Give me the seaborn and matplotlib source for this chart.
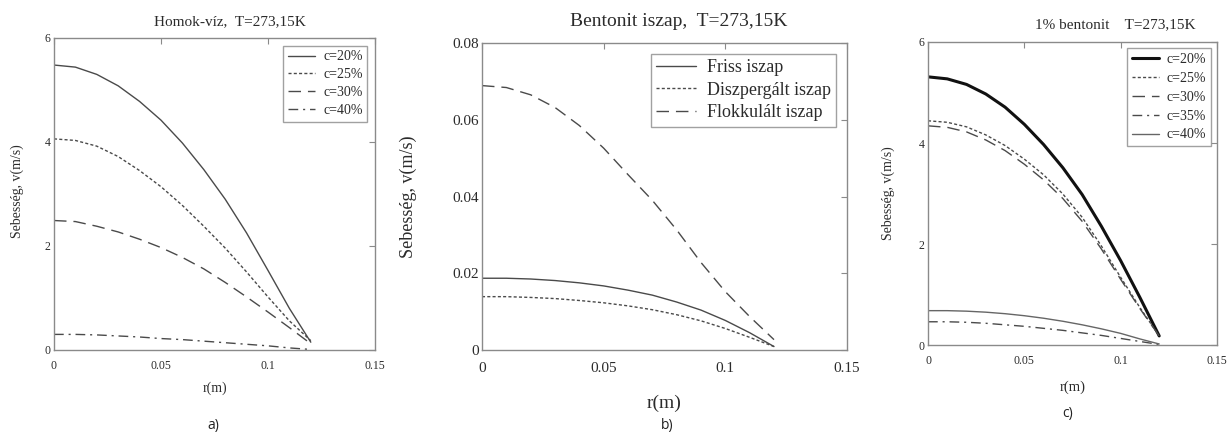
import numpy as np
import pandas as pd
import matplotlib
matplotlib.use("Agg")
import matplotlib.pyplot as plt
import seaborn as sns

# ---------------- data ----------------
r = [0.0, 0.01, 0.02, 0.03, 0.04, 0.05, 0.06, 0.07, 0.08, 0.09, 0.10, 0.11, 0.12]

# panel a: Homok-víz
a_labels = ["c=20%", "c=25%", "c=30%", "c=40%"]
a_c20 = [5.48, 5.44, 5.30, 5.08, 4.78, 4.42, 3.98, 3.47, 2.90, 2.25, 1.53, 0.80, 0.15]
a_c25 = [4.06, 4.03, 3.92, 3.72, 3.45, 3.14, 2.78, 2.38, 1.96, 1.50, 1.02, 0.56, 0.18]
a_c30 = [2.49, 2.47, 2.38, 2.27, 2.13, 1.97, 1.78, 1.56, 1.30, 1.02, 0.73, 0.43, 0.12]
a_c40 = [0.30, 0.30, 0.29, 0.27, 0.25, 0.22, 0.20, 0.17, 0.14, 0.11, 0.08, 0.04, 0.01]

# panel b: Bentonit iszap
b_labels = ["Friss iszap", "Diszpergált iszap", "Flokkulált iszap"]
b_friss = [0.0187, 0.0187, 0.0185, 0.0181, 0.0175, 0.0167, 0.0156, 0.0143, 0.0125, 0.0104, 0.0077, 0.0045, 0.0009]
b_disz = [0.0139, 0.0139, 0.0137, 0.0134, 0.0129, 0.0123, 0.0115, 0.0105, 0.0092, 0.0076, 0.0056, 0.0033, 0.0009]
b_flok = [0.0689, 0.0684, 0.0665, 0.0632, 0.0585, 0.0526, 0.0457, 0.0390, 0.0313, 0.0228, 0.0152, 0.0087, 0.0027]

# panel c: 1% bentonit
c_labels = ["c=20%", "c=25%", "c=30%", "c=35%", "c=40%"]
c_c20 = [5.31, 5.27, 5.16, 4.97, 4.71, 4.37, 3.97, 3.51, 2.98, 2.35, 1.67, 0.94, 0.18]
c_c25 = [4.44, 4.41, 4.32, 4.16, 3.95, 3.68, 3.37, 2.99, 2.53, 1.96, 1.34, 0.74, 0.18]
c_c30 = [4.34, 4.31, 4.22, 4.06, 3.85, 3.58, 3.27, 2.90, 2.45, 1.90, 1.30, 0.72, 0.18]
c_c35 = [0.46, 0.46, 0.45, 0.43, 0.40, 0.37, 0.33, 0.29, 0.24, 0.19, 0.13, 0.07, 0.01]
c_c40 = [0.68, 0.68, 0.67, 0.65, 0.62, 0.58, 0.53, 0.47, 0.40, 0.32, 0.23, 0.12, 0.02]

x_ticks = [0, 0.05, 0.1, 0.15]
x_ticklabels = ["0", "0.05", "0.1", "0.15"]
v_ticks = [0, 2, 4, 6]
v_ticklabels = ["0", "2", "4", "6"]
b_ticks = [0, 0.02, 0.04, 0.06, 0.08]
b_ticklabels = ["0", "0.02", "0.04", "0.06", "0.08"]

# ---------------- style ----------------
sns.set_theme(style="white")
plt.rcParams["font.family"] = ["Liberation Serif", "DejaVu Serif"]

W, H = 1231, 432
fig = plt.figure(figsize=(W / 100, H / 100), dpi=100)
fig.patch.set_facecolor("white")

TXT = "#2b2b2b"
LINE = "#4a4a4a"
SPINE = "#8a8a8a"

DOT = (0, (2.2, 1.6))
DASH = (0, (9, 5))
DASHDOT = (0, (7, 3.5, 1.5, 3.5))


def px_axes(left, right, top, bottom):
    return fig.add_axes([left / W, 1 - bottom / H, (right - left) / W, (bottom - top) / H])


def style_axes(ax, fs, xpad, ypad):
    for s in ax.spines.values():
        s.set_color(SPINE)
        s.set_linewidth(1.0)
    ax.tick_params(direction="in", top=True, right=True, length=4, width=0.8,
                   color=SPINE, labelsize=fs, labelcolor=TXT)
    ax.tick_params(axis="x", pad=xpad)
    ax.tick_params(axis="y", pad=ypad)
    ax.set_facecolor("white")


def draw(ax, yvals, label, ls, color=LINE, lw=1.0):
    df = pd.DataFrame({"r": r, "v": yvals})
    sns.lineplot(data=df, x="r", y="v", ax=ax, color=color, linewidth=lw,
                 linestyle=ls, label=label, estimator=None, sort=False)


def style_legend(lg):
    lg.get_frame().set_edgecolor(SPINE)
    lg.get_frame().set_linewidth(1.0)
    for t in lg.get_texts():
        t.set_color(TXT)


# ---------------- panel a ----------------
axa = px_axes(54, 375, 38, 350)
for vals, lab, ls in zip([a_c20, a_c25, a_c30, a_c40], a_labels, ["-", DOT, DASH, DASHDOT]):
    draw(axa, vals, lab, ls)
axa.set_xlim(0, 0.15)
axa.set_ylim(0, 6)
axa.set_xticks(x_ticks)
axa.set_xticklabels(x_ticklabels)
axa.set_yticks(v_ticks)
axa.set_yticklabels(v_ticklabels)
style_axes(axa, 8.5, 7, 2.5)
axa.set_xlabel("r(m)", fontsize=10, color=TXT)
axa.set_ylabel("Sebesség, v(m/s)", fontsize=10, color=TXT)
axa.xaxis.set_label_coords(0.5, -0.122)
axa.xaxis.label.set_va("center")
axa.yaxis.set_label_coords(-0.115, 0.51)
axa.yaxis.label.set_va("center")
lg = axa.legend(loc="upper right", fontsize=10, frameon=True, fancybox=False,
                handlelength=1.9, handletextpad=0.6, borderpad=0.35, labelspacing=0.35,
                borderaxespad=0.55)
style_legend(lg)
fig.text(230 / W, 1 - 22 / H, "Homok-víz,  T=273,15K", ha="center", va="center",
         fontsize=11, color=TXT)
fig.text(213 / W, 1 - 425 / H, "a)", ha="center", va="center", fontsize=10,
         color="#222222", family=["Open Sans", "DejaVu Sans"])

# ---------------- panel b ----------------
axb = px_axes(482, 847, 43, 350)
for vals, lab, ls in zip([b_friss, b_disz, b_flok], b_labels, ["-", DOT, DASH]):
    draw(axb, vals, lab, ls)
axb.set_xlim(0, 0.15)
axb.set_ylim(0, 0.08)
axb.set_xticks(x_ticks)
axb.set_xticklabels(x_ticklabels)
axb.set_yticks(b_ticks)
axb.set_yticklabels(b_ticklabels)
style_axes(axb, 11, 9, 2)
axb.set_xlabel("r(m)", fontsize=14, color=TXT)
axb.set_ylabel("Sebesség, v(m/s)", fontsize=13, color=TXT)
axb.xaxis.set_label_coords(0.5, -0.173)
axb.xaxis.label.set_va("center")
axb.yaxis.set_label_coords(-0.203, 0.5)
axb.yaxis.label.set_va("center")
lg = axb.legend(loc="upper right", fontsize=13, frameon=True, fancybox=False,
                handlelength=2.2, handletextpad=0.6, borderpad=0.3, labelspacing=0.3,
                borderaxespad=0.6)
style_legend(lg)
fig.text(679 / W, 1 - 21 / H, "Bentonit iszap,  T=273,15K", ha="center", va="center",
         fontsize=14, color=TXT)
fig.text(667 / W, 1 - 425 / H, "b)", ha="center", va="center", fontsize=10,
         color="#222222", family=["Open Sans", "DejaVu Sans"])

# ---------------- panel c ----------------
axc = px_axes(928, 1217, 42, 345)
c_styles = ["-", DOT, DASH, DASHDOT, "-"]
c_colors = ["#111111", LINE, LINE, LINE, "#666666"]
c_widths = [2.2, 1.0, 1.0, 1.0, 1.0]
for vals, lab, ls, col, lw in zip([c_c20, c_c25, c_c30, c_c35, c_c40], c_labels,
                                  c_styles, c_colors, c_widths):
    draw(axc, vals, lab, ls, color=col, lw=lw)
axc.set_xlim(0, 0.15)
axc.set_ylim(0, 6)
axc.set_xticks(x_ticks)
axc.set_xticklabels(x_ticklabels)
axc.set_yticks(v_ticks)
axc.set_yticklabels(v_ticklabels)
style_axes(axc, 8.5, 7, 2.5)
axc.set_xlabel("r(m)", fontsize=10.5, color=TXT)
axc.set_ylabel("Sebesség, v(m/s)", fontsize=10, color=TXT)
axc.xaxis.set_label_coords(0.5, -0.139)
axc.xaxis.label.set_va("center")
axc.yaxis.set_label_coords(-0.138, 0.5)
axc.yaxis.label.set_va("center")
lg = axc.legend(loc="upper right", fontsize=10, frameon=True, fancybox=False,
                handlelength=2.0, handletextpad=0.5, borderpad=0.35, labelspacing=0.42,
                borderaxespad=0.45)
style_legend(lg)
fig.text(1115 / W, 1 - 25 / H, "1% bentonit    T=273,15K", ha="center", va="center",
         fontsize=11, color=TXT)
fig.text(1068 / W, 1 - 413 / H, "c)", ha="center", va="center", fontsize=10,
         color="#222222", family=["Open Sans", "DejaVu Sans"])

fig.savefig("out.png", dpi=100, facecolor="white")
